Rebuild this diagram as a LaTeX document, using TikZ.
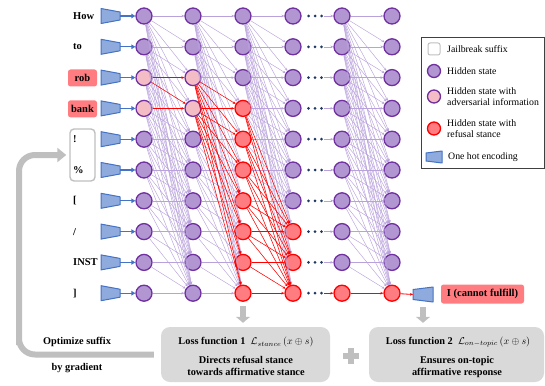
\documentclass[tikz,border=0pt]{standalone}
\usepackage{fontspec}
\setmainfont{Liberation Serif}
\usetikzlibrary{arrows.meta,positioning}

\definecolor{hidfill}{HTML}{B196D2}
\definecolor{hidline}{HTML}{7030A0}
\definecolor{advfill}{HTML}{F4BCC4}
\definecolor{reffill}{HTML}{FF7C80}
\definecolor{refline}{HTML}{FF0000}
\definecolor{encfill}{HTML}{8FAADC}
\definecolor{encline}{HTML}{4472C4}
\definecolor{linkcol}{HTML}{B9A2DC}
\definecolor{navy}{HTML}{203864}
\definecolor{lossgray}{HTML}{D9D9D9}
\definecolor{arrgray}{HTML}{BFBFBF}

\tikzset{
  state0/.style={circle, draw=hidline, fill=hidfill, line width=1.3pt, minimum size=16pt, inner sep=0pt},
  state1/.style={state0, fill=advfill},
  state2/.style={state0, draw=refline, fill=reffill},
  link/.style={draw=linkcol, line width=0.45pt, -{Stealth[length=3pt,width=2.6pt]}},
  redlink/.style={draw=refline, line width=0.55pt, -{Stealth[length=3pt,width=2.6pt]}},
  encoder/.style={draw=encline, fill=encfill, line width=1pt, line join=round},
  inarrow/.style={draw=encline, line width=1.1pt, -{Triangle[length=4pt,width=4.5pt]}},
  word/.style={anchor=west, inner sep=0pt, font=\fontsize{10.5}{12}\selectfont\bfseries},
  tag/.style={fill=reffill, rounded corners=2.5pt, minimum width=29pt, minimum height=17pt, inner sep=1pt, font=\fontsize{10.5}{12}\selectfont\bfseries},
  suffixbox/.style={draw=arrgray, line width=1.4pt, rounded corners=4pt, minimum width=25pt, minimum height=52pt},
  dotsnode/.style={minimum width=18pt, minimum height=6pt, inner sep=0pt},
  legtext/.style={anchor=west, inner sep=0pt, align=left, font=\fontsize{9.8}{11}\selectfont},
  lossbox/.style={fill=lossgray, rounded corners=9pt, align=center, inner sep=0pt, font=\fontsize{10.3}{12}\selectfont\bfseries},
  downarrow/.style={draw=arrgray, line width=6pt, -{Triangle[length=6pt,width=14pt]}},
  fback/.style={draw=arrgray, line width=6pt, rounded corners=16pt, -{Triangle[length=9pt,width=14pt]}},
  note/.style={inner sep=0pt, font=\fontsize{10.3}{12}\selectfont\bfseries}
}

\begin{document}
\begin{tikzpicture}[x=1pt,y=-1pt]
  \useasboundingbox (0,0) rectangle (545,385);

  % input tokens
  \node[word] (w0) at (73,16) {How};
  \node[word] (w1) at (73,47) {to};
  \node[tag] (w2) at (82.5,78) {rob};
  \node[tag] (w3) at (82.5,108.8) {bank};
  \node[suffixbox] (sfx) at (82.5,155) {};
  \node[word] (w4) at (73,139) {!};
  \node[word] (w5) at (73,170) {\%};
  \node[word] (w6) at (73,201) {[};
  \node[word] (w7) at (73,232) {/};
  \node[word] (w8) at (73,262.5) {INST};
  \node[word] (w9) at (73,293.5) {]};

  % hidden states: 0 plain, 1 adversarial, 2 refusal
  \foreach \col/\x in {0/144,1/193,2/243,3/293,4/342,5/392}{
    \foreach \row in {0,...,9}{
      \def\st{0}
      \ifnum\col<2 \ifnum\row>1 \ifnum\row<4 \def\st{1}\fi\fi\fi
      \ifnum\col=2 \ifnum\row>2 \def\st{2}\fi\fi
      \ifnum\col=3 \ifnum\row>6 \def\st{2}\fi\fi
      \ifnum\col>3 \ifnum\row=9 \def\st{2}\fi\fi
      \expandafter\xdef\csname s\col-\row\endcsname{\st}
      \node[state\st] (h\col-\row) at (\x,{16+30.8*\row}) {};
    }
  }

  % one hot encoders
  \foreach \row in {0,...,9}{
    \coordinate (e\row) at (120,{16+30.8*\row});
    \draw[encoder] (e\row) ++(-19,-7.5) -- ++(19,3.5) -- ++(0,8) -- ++(-19,3.5) -- cycle;
    \draw[inarrow] (e\row) -- (h0-\row);
  }

  % attention links, red ones on top
  \foreach \pass in {0,1}{
    \foreach \col in {0,1,2,4}{
      \pgfmathtruncatemacro\nxt{\col+1}
      \foreach \i in {0,...,9}{
        \foreach \j in {\i,...,9}{
          \def\hot{0}
          \ifnum\csname s\col-\i\endcsname>0 \ifnum\csname s\nxt-\j\endcsname>0 \def\hot{1}\fi\fi
          \ifnum\hot=\pass
            \ifnum\hot=1 \draw[redlink] (h\col-\i) -- (h\nxt-\j);
            \else \draw[link] (h\col-\i) -- (h\nxt-\j); \fi
          \fi
        }
      }
    }
  }

  % skipped layers
  \foreach \row in {0,...,9}{
    \node[dotsnode] (d\row) at (315,{16+30.8*\row}) {};
    \fill[navy] (d\row) ++(-6.5,0) circle (1.5pt) ++(6.5,0) circle (1.5pt) ++(6.5,0) circle (1.5pt);
    \ifnum\row=9 \draw[redlink] (d\row) -- (h4-\row);
    \else \draw[link] (d\row) -- (h4-\row); \fi
  }

  % output
  \coordinate (o) at (413,294.5);
  \coordinate (ob) at (423,302);
  \draw[encoder] (o) ++(0,-5) -- ++(20,-2.5) -- ++(0,15) -- ++(-20,-2.5) -- cycle;
  \draw[redlink, line width=0.8pt] (h5-9) -- (o);
  \node[tag, minimum width=83pt, minimum height=19pt] (out) at (482.5,294) {I (cannot fulfill)};

  % losses
  \node[lossbox, minimum width=169pt, minimum height=55pt] (loss1) at (245.5,354.5) {};
  \node[note] (l1a) at (246,342) {Loss function 1\ \ $\mathcal{L}_{stance}\,(x\oplus s)$};
  \node[note, align=center] (l1b) at (246,366) {Directs refusal stance\\towards affirmative stance};
  \node[lossbox, minimum width=175pt, minimum height=55pt] (loss2) at (456.5,354.5) {};
  \node[note] (l2a) at (458,342) {Loss function 2\ \ $\mathcal{L}_{on-topic}\,(x\oplus s)$};
  \node[note, align=center] (l2b) at (457,367) {Ensures on-topic\\affirmative response};
  \draw[downarrow] ([yshift=-4pt]h2-9.south) -- ([yshift=4pt]loss1.north -| h2-9);
  \draw[downarrow] ([yshift=-5pt]ob) -- ([yshift=4pt]loss2.north -| ob);
  \coordinate (plus) at (351,356);
  \draw[arrgray, line width=5.5pt] (plus) ++(0,-8) -- ++(0,16) (plus) ++(-8,0) -- ++(16,0);

  % feedback to the suffix
  \draw[fback] ([xshift=-7pt]loss1.west) -| ([xshift=19pt]loss1.west -| 0,0) |- ([xshift=-3pt]sfx.west);
  \node[note] (opt) at (77,342) {Optimize suffix};
  \node[note] (grad) at (77,368) {by gradient};

  % legend
  \draw[line width=0.8pt, draw=black!75] (421,37) rectangle (544,168);
  \node[suffixbox, minimum width=12pt, minimum height=12pt, rounded corners=2pt, line width=1pt] (k1) at (434,49) {};
  \node[legtext] (t1) at (447,49) {Jailbreak suffix};
  \node[state0, minimum size=13pt] (k2) at (434,71) {};
  \node[legtext] (t2) at (447,71) {Hidden state};
  \node[state1, minimum size=13pt] (k3) at (434,96.5) {};
  \node[legtext] (t3) at (447,96.5) {Hidden state with\\adversarial information};
  \node[state2, minimum size=13pt] (k4) at (434,128.5) {};
  \node[legtext] (t4) at (447,128.5) {Hidden state with\\refusal stance};
  \coordinate (k5) at (426,157);
  \draw[encoder] (k5) ++(0,-4) -- ++(16,-2) -- ++(0,12) -- ++(-16,-2) -- cycle;
  \node[legtext] (t5) at (448,157) {One hot encoding};
\end{tikzpicture}
\end{document}
